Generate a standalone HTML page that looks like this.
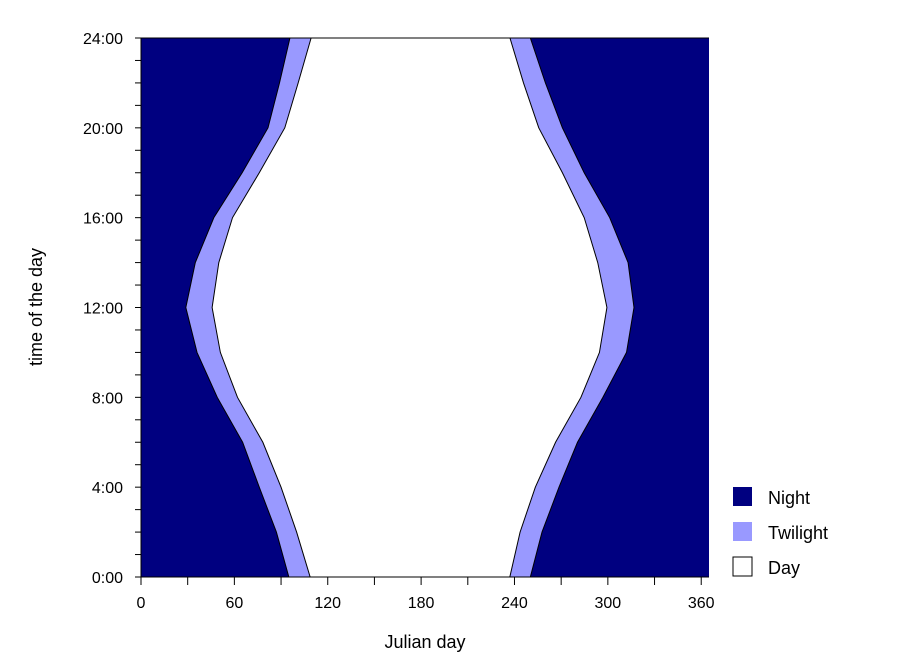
<!DOCTYPE html>
<html><head><meta charset="utf-8"><style>
body{margin:0;background:#fff;}
svg{display:block;font-family:"Liberation Sans",Arial,sans-serif;}
</style></head><body>
<svg id="chart" width="899" height="672" viewBox="0 0 899 672" xmlns="http://www.w3.org/2000/svg"></svg>
<script>
const hours = [24,22,20,18,16,14,12,10,8,6,4,2,0];
const nightEndLeft  = [95.7,89,81.6,65,46.8,34.9,28.8,36,49,65.3,76,87,95];
const dayStartLeft  = [109.3,101,92.4,76,58.8,50,45.7,51,62,78.3,90,100,108.7];
const dayEndRight   = [237.1,245.8,255.6,270.8,284.8,293.5,299.4,294.6,282.7,266.4,253.4,243.6,237];
const nightStartRight=[250.2,259.9,270.8,284.8,301.2,313,316.8,312,296.8,280.5,268.6,257.7,250.2];
const xTicks = [0,60,120,180,240,300,360];
const yTickLabels = ["0:00","4:00","8:00","12:00","16:00","20:00","24:00"];
const yTickValues = [0,4,8,12,16,20,24];

const X0=141, X1=709, Y0=577, Y1=38, DMAX=365;
const xs = d => X0 + d*(X1-X0)/DMAX;
const ys = h => Y0 - h*(Y0-Y1)/24;
const NS="http://www.w3.org/2000/svg";
const svg=document.getElementById('chart');
function mk(tag, attrs, parent){const e=document.createElementNS(NS,tag);for(const k in attrs)e.setAttribute(k,attrs[k]);(parent||svg).appendChild(e);return e;}

const night=mk('rect',{x:X0,y:Y1,width:X1-X0,height:Y0-Y1,fill:'#000080'});



function poly(left,right){
  let p=[];
  for(let i=0;i<hours.length;i++)p.push(xs(left[i])+','+ys(hours[i]));
  for(let i=hours.length-1;i>=0;i--)p.push(xs(right[i])+','+ys(hours[i]));
  return p.join(' ');
}
const tw=mk('polygon',{points:poly(nightEndLeft,nightStartRight),fill:'#9999ff',stroke:'#000',"stroke-width":1});


const day=mk('polygon',{points:poly(dayStartLeft,dayEndRight),fill:'#fff',stroke:'#000',"stroke-width":1});


// cover strokes at top/bottom edges
mk('line',{x1:X0,y1:Y1,x2:X1,y2:Y1,stroke:'#000',"stroke-width":1});
const xl=mk('line',{x1:X0,y1:Y0,x2:X1,y2:Y0,stroke:'#000',"stroke-width":1});


const yl=mk('line',{x1:X0,y1:Y0,x2:X0,y2:Y1,stroke:'#000',"stroke-width":1});



for(let d=0;d<=360;d+=30){mk('line',{x1:xs(d),y1:Y0,x2:xs(d),y2:Y0+8,stroke:'#000'});}
xTicks.forEach(d=>{
  const t=mk('text',{x:xs(d),y:608,"text-anchor":"middle","font-size":16});
  t.textContent=d;
  
  
});
for(let h=0;h<=24;h++){mk('line',{x1:X0-6,y1:ys(h),x2:X0,y2:ys(h),stroke:'#000'});}
yTickValues.forEach((h,i)=>{
  const t=mk('text',{x:123,y:ys(h)+6,"text-anchor":"end","font-size":16});
  t.textContent=yTickLabels[i];
  
  
});
const xt=mk('text',{x:425,y:648,"text-anchor":"middle","font-size":18});
xt.textContent='Julian day';


const yt=mk('text',{x:0,y:0,"text-anchor":"middle","font-size":18,transform:'translate(42,307) rotate(-90)'});
yt.textContent='time of the day';



const legend=[["Night","#000080",487],["Twilight","#9999ff",522],["Day","#ffffff",557]];
legend.forEach(l=>{
  const g=mk('g',{});
  
  
  mk('rect',{x:733,y:l[2],width:19,height:19,fill:l[1],stroke:l[0]==='Day'?'#000':'none'},g);
  const t=mk('text',{x:768,y:l[2]+17,"font-size":18},g);
  t.textContent=l[0];
});
</script>
</body></html>
